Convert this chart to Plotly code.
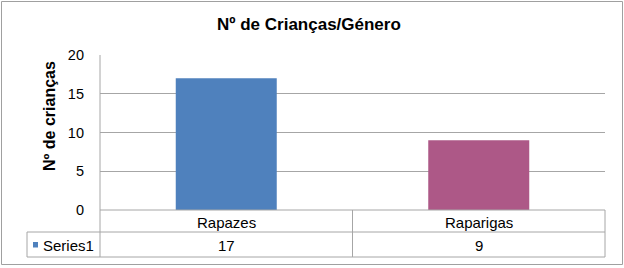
import plotly.graph_objects as go

categories = ["Rapazes", "Raparigas"]
values = [17, 9]
series_name = "Series1"
bar_colors = ["#4F81BD", "#AD5887"]
title = "Nº de Crianças/Género"
y_title = "Nº de crianças"
y_ticks = [0, 5, 10, 15, 20]

W, H = 624, 268
L, R, T, B = 100, 605, 55, 210  # plot area in px

def px(x):
    return (x - L) / (R - L)

def py(y):
    return (B - y) / (B - T)

FONT = "Liberation Sans, Arial, sans-serif"
GRID = "#A6A6A6"

fig = go.Figure(go.Bar(
    x=categories, y=values, marker=dict(color=bar_colors, line=dict(width=0)),
    width=0.4, showlegend=False, hoverinfo="skip"))

shapes = []
def line(x0, y0, x1, y1, color=GRID, w=1):
    shapes.append(dict(type="line", xref="paper", yref="paper",
                       x0=px(x0), y0=py(y0), x1=px(x1), y1=py(y1),
                       line=dict(color=color, width=w)))

# table lines
mid = (L + R) / 2
line(L, B, R, B)
line(27, 232, R, 232)
line(27, 257, R, 257)
line(27, 232, 27, 257)
line(L, T, L, 257)
line(mid, B, mid, 257)
line(R, B, R, 257)
# outer border
shapes.append(dict(type="rect", xref="paper", yref="paper",
                   x0=px(1.5), y0=py(264.5), x1=px(622.5), y1=py(1.5),
                   line=dict(color="#A0A0A0", width=1), fillcolor="rgba(0,0,0,0)"))
# legend key
shapes.append(dict(type="rect", xref="paper", yref="paper",
                   x0=px(33), y0=py(247.5), x1=px(38), y1=py(242),
                   line=dict(width=0), fillcolor=bar_colors[0]))

annotations = []
def text(x, y, s, size=15, bold=False, xanchor="center", angle=0):
    annotations.append(dict(xref="paper", yref="paper", x=px(x), y=py(y),
                            text=f"<b>{s}</b>" if bold else s, showarrow=False,
                            xanchor=xanchor, yanchor="middle", textangle=angle,
                            font=dict(family=FONT, size=size, color="#000000")))

col_centers = [L + (R - L) * (i + 0.5) / len(categories) for i in range(len(categories))]
for cx, c, v in zip(col_centers, categories, values):
    text(cx, 222, c)
    text(cx, 245, str(v))
text(41, 245, series_name, xanchor="left")
text(308.5, 24, title, size=17, bold=True)
text(49, 116, y_title, size=16, bold=True, angle=-90)

fig.update_layout(
    width=W, height=H, autosize=False,
    margin=dict(l=L, r=W - R, t=T, b=H - B, pad=0),
    paper_bgcolor="white", plot_bgcolor="white",
    bargap=0.6,
    xaxis=dict(showticklabels=False, showgrid=False, zeroline=False, showline=False, ticks=""),
    yaxis=dict(range=[0, 20], tickvals=y_ticks, showgrid=True, gridcolor=GRID, gridwidth=1,
               zeroline=False, showline=False, ticks="", ticklabelstandoff=15,
               tickfont=dict(family=FONT, size=14.5, color="#000000")),
    shapes=shapes, annotations=annotations,
)

fig.write_html("out.html")
